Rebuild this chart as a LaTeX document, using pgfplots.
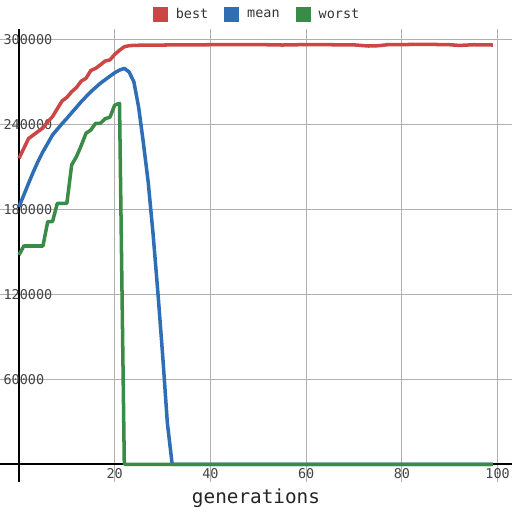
\documentclass[border=0pt]{standalone}
\usepackage{pgfplots}
\pgfplotsset{compat=1.18}
\usepackage{fontspec}
\setmainfont{DejaVu Sans Mono}
\setmonofont{DejaVu Sans Mono}
\definecolor{cbest}{HTML}{CC4646}
\definecolor{cmean}{HTML}{2E6EB5}
\definecolor{cworst}{HTML}{3A8B46}
\definecolor{gridc}{HTML}{B0B0B0}
\definecolor{txt}{HTML}{444444}

\pgfplotstableread{
gen val
0 216000
1 223000
2 230000
3 232500
4 235000
5 237500
6 241800
7 245400
8 251000
9 256500
10 259000
11 263000
12 266000
13 270500
14 272500
15 278000
16 279500
17 282000
18 284700
19 285500
20 289400
21 292300
22 294800
23 295500
24 295800
30 296000
40 296200
50 296300
55 296000
60 296300
70 296100
73 295300
75 295500
77 296200
85 296500
90 296200
92 295700
95 296200
99 296000
}\best

\pgfplotstableread{
gen val
0 181800
1 190000
2 198400
3 206500
4 214000
5 220700
6 226500
7 232500
8 236500
9 240500
10 244200
11 248200
12 252000
13 256000
14 259500
15 263000
16 266000
17 269000
18 271500
19 274000
20 276400
21 278300
22 279500
23 277000
24 270000
25 252000
26 226500
27 199000
28 163000
29 122000
30 77500
31 29000
32 0
99 0
}\mean

\pgfplotstableread{
gen val
0 147800
1 154100
2 154100
3 154100
4 154100
5 154100
6 171300
7 171300
8 184200
9 184200
10 184200
11 211300
12 217200
13 225000
14 233700
15 236000
16 240700
17 240700
18 244000
19 245000
20 253600
21 254800
22 0
99 0
}\worst

\begin{document}
\begin{tikzpicture}
\begin{axis}[
  scale only axis, width=15.36cm, height=13.572cm,
  axis lines=middle, axis line style={-, black, line width=1.7pt},
  xmin=-3.97, xmax=103, ymin=-12300, ymax=307100,
  scaled y ticks=false, scaled x ticks=false,
  xtick={20,40,60,80,100}, xticklabels={20,40,60,80,100},
  ytick={60000,120000,180000,240000,300000},
  yticklabels={60000,120000,180000,240000,300000},
  major tick length=0pt,
  grid=major, grid style={gridc, line width=0.85pt},
  ticklabel style={font=\fontsize{11.5}{12}\selectfont, text=txt, inner sep=0pt},
  xticklabel style={anchor=north, yshift=-0.12cm},
  yticklabel style={anchor=west, xshift=-0.47cm},
  xlabel={generations},
  xlabel style={at={(axis description cs:0.5,0)}, anchor=base, yshift=-0.64cm,
    font=\fontsize{16.5}{18}\selectfont, text=black!85},
  legend columns=3,
  legend style={draw=none, fill=none, at={(axis description cs:0.5,1)}, anchor=center,
    yshift=0.438cm, inner sep=0pt, font=\fontsize{11.5}{12}\selectfont,
    nodes={inner sep=0pt, text=black!80},
    /tikz/every odd column/.append style={column sep=0.24cm},
    /tikz/every even column/.append style={column sep=0.48cm}},
  legend image code/.code={\fill[#1] (0cm,-0.225cm) rectangle (0.45cm,0.225cm);},
]
\addlegendimage{fill=cbest, draw=none}
\addlegendentry{best}
\addlegendimage{fill=cmean, draw=none}
\addlegendentry{mean}
\addlegendimage{fill=cworst, draw=none}
\addlegendentry{worst}
\addplot[forget plot, cbest, line width=3pt, line join=round] table[x=gen, y=val] {\best};
\addplot[forget plot, cmean, line width=3pt, line join=round] table[x=gen, y=val] {\mean};
\addplot[forget plot, cworst, line width=3pt, line join=round] table[x=gen, y=val] {\worst};
\coordinate (bl) at (rel axis cs:0,0);
\coordinate (tr) at (rel axis cs:1,1);
\end{axis}
\pgfresetboundingbox
\path[use as bounding box] ([yshift=-0.909cm]bl) rectangle ([yshift=0.879cm]tr);
\end{tikzpicture}
\end{document}
